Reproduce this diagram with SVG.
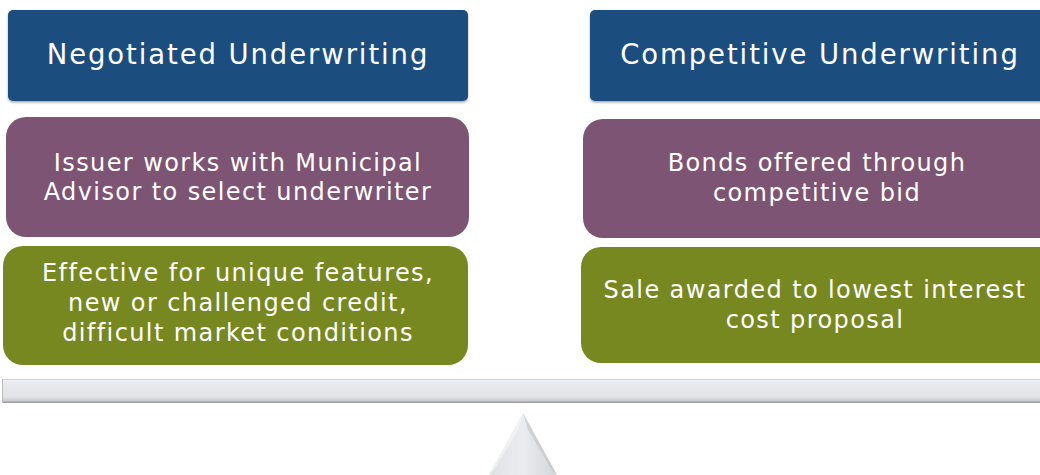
<svg xmlns="http://www.w3.org/2000/svg" width="1040" height="475" viewBox="0 0 1040 475">
<defs>
<linearGradient id="beam" x1="0" y1="0" x2="0" y2="1">
<stop offset="0" stop-color="#f6f7f9"/>
<stop offset="0.15" stop-color="#e9eaee"/>
<stop offset="0.75" stop-color="#e1e3e7"/>
<stop offset="0.9" stop-color="#c9cbcf"/>
<stop offset="1" stop-color="#8f9194"/>
</linearGradient>
<linearGradient id="tri" x1="0" y1="0" x2="1" y2="0">
<stop offset="0" stop-color="#dfe1e4"/>
<stop offset="0.5" stop-color="#ebecef"/>
<stop offset="1" stop-color="#d3d5d8"/>
</linearGradient>
<filter id="sh" x="-5%" y="-10%" width="110%" height="125%">
<feDropShadow dx="0" dy="1.5" stdDeviation="1.2" flood-color="#000" flood-opacity="0.35"/>
</filter>
</defs>
<style>
.hdr{fill:#1d4e7f;filter:url(#sh)}
.pur{fill:#7d5474}
.grn{fill:#788820}
.t{font-family:"DejaVu Sans","Liberation Sans",sans-serif;fill:#ffffff;text-anchor:middle}
.h{font-size:27.5px;letter-spacing:1.9px}
.b{font-size:24px;letter-spacing:1.4px}
</style>
<g id="hdr-left">
<rect class="hdr" x="8" y="10" width="460" height="91" rx="5"/>
<text class="t h" x="238" y="64">Negotiated Underwriting</text>
</g>
<g id="hdr-right">
<rect class="hdr" x="590" y="10" width="460" height="91" rx="5"/>
<text class="t h" x="820" y="64">Competitive Underwriting</text>
</g>
<g id="left-purple">
<rect class="pur" x="6" y="117" width="463" height="120" rx="20"/>
<text class="t b" x="238" y="171">Issuer works with Municipal</text>
<text class="t b" x="238" y="200">Advisor to select underwriter</text>
</g>
<g id="left-green">
<rect class="grn" x="3" y="246" width="465" height="119" rx="20"/>
<text class="t b" x="238" y="281">Effective for unique features,</text>
<text class="t b" x="238" y="311">new or challenged credit,</text>
<text class="t b" x="238" y="341">difficult market conditions</text>
</g>
<g id="right-purple">
<rect class="pur" x="583" y="119" width="480" height="119" rx="20"/>
<text class="t b" x="817" y="171">Bonds offered through</text>
<text class="t b" x="817" y="201">competitive bid</text>
</g>
<g id="right-green">
<rect class="grn" x="581" y="247" width="480" height="116" rx="20"/>
<text class="t b" x="815" y="298">Sale awarded to lowest interest</text>
<text class="t b" x="815" y="328">cost proposal</text>
</g>
<g id="scale">
<rect x="2" y="379" width="1040" height="24" fill="url(#beam)"/>
<line x1="2" y1="379.5" x2="1040" y2="379.5" stroke="#d0d2d6" stroke-width="1"/>
<line x1="2.5" y1="379" x2="2.5" y2="403" stroke="#b8babd" stroke-width="1"/>
<polygon points="523,413 489,475 557,475" fill="url(#tri)"/>
<polygon points="523,413 528,430 552,470 557,475" fill="#c6c8cc" opacity="0.7"/>
<polygon points="523,413 518,430 494,470 489,475" fill="#f4f5f7" opacity="0.7"/>
</g>
</svg>
